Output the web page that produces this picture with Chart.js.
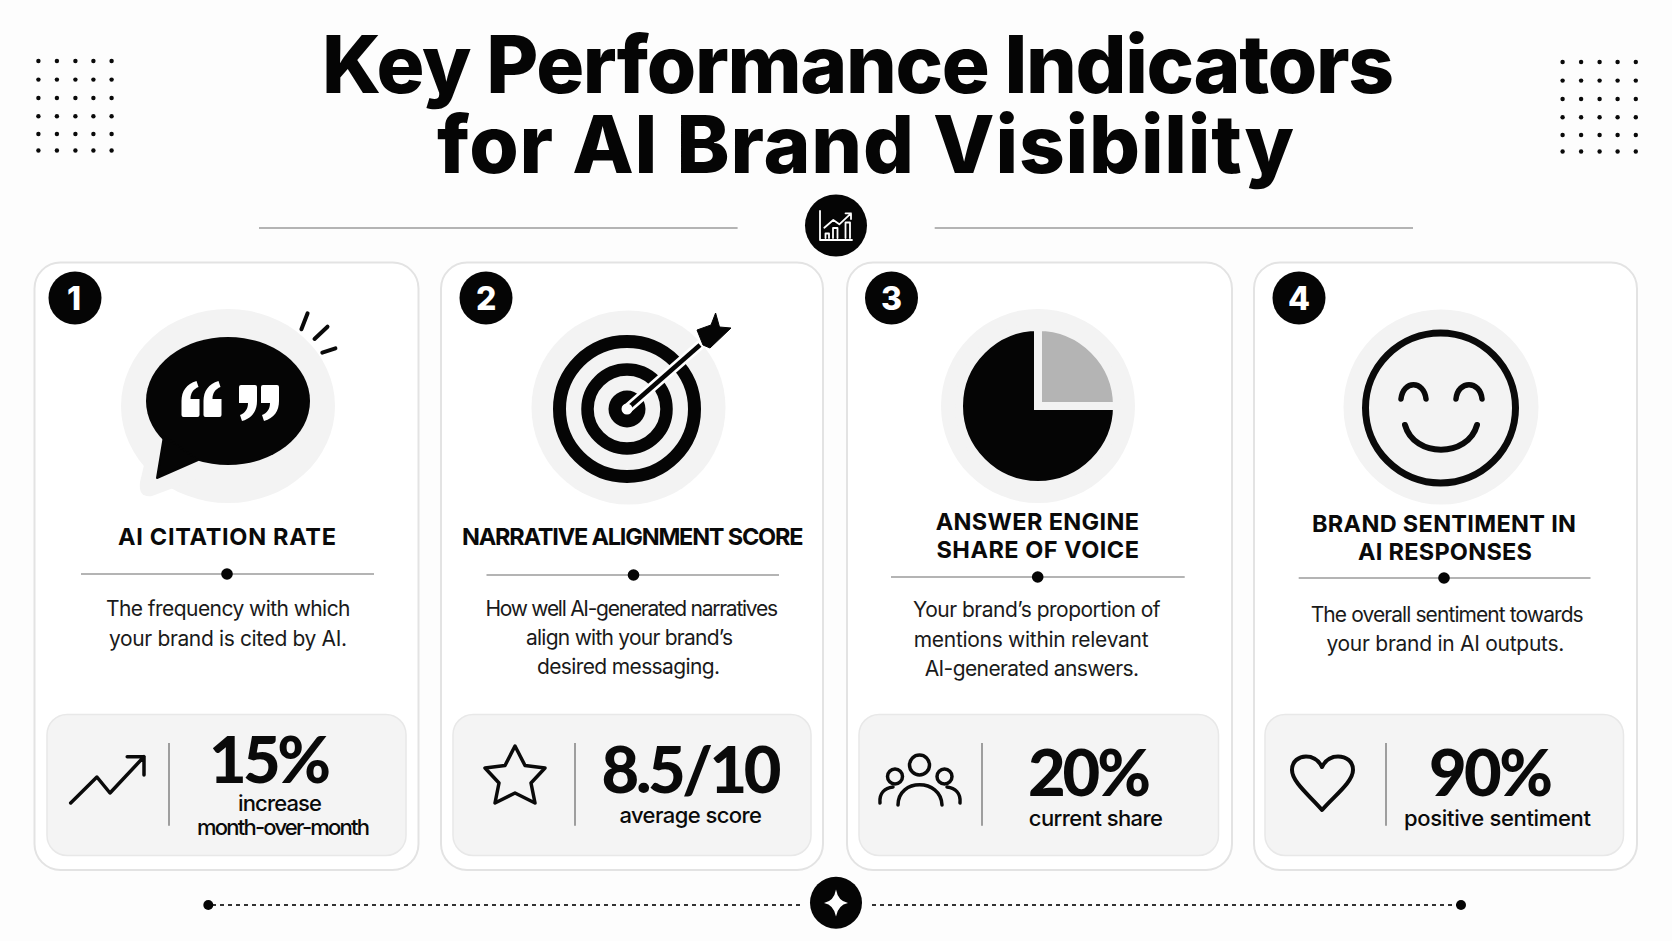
<!DOCTYPE html>
<html>
<head>
<meta charset="utf-8">
<title>Key Performance Indicators for AI Brand Visibility</title>
<script src="https://cdn.jsdelivr.net/npm/chart.js@4"></script>
<style>
  html, body { margin: 0; padding: 0; background: #fdfdfd; }
  #stage { position: relative; width: 1672px; height: 941px; overflow: hidden; font-family: Inter, sans-serif; color: #0a0a0a; }
  #art, #share-pie { position: absolute; left: 0; top: 0; }
  #share-pie { left: 948px; top: 316px; }
  .t { position: absolute; left: 0; top: 0; white-space: pre; line-height: 1; }
  .title { font-size: 80px; font-weight: 800; color: #050505; line-height: 0.95; }
  .name { font-size: 23.5px; font-weight: 700; }
  .desc { font-size: 21px; font-weight: 400; color: #1a1a1a; }
  .value { font-family: Lato, sans-serif; font-size: 65px; font-weight: 900; line-height: 0.75; }
  .cap { font-size: 22px; font-weight: 500; }
  .num { font-size: 32px; font-weight: 800; color: #fff; }
  svg .card { fill: #fff; stroke: #e3e3e3; stroke-width: 2; }
  svg .box { fill: #f4f4f4; stroke: #e8e8e8; stroke-width: 1.5; }
  svg .halo { fill: #f3f3f3; }
  svg .rule { stroke: #b4b4b4; stroke-width: 2; }
  svg .vrule { stroke: #9e9e9e; stroke-width: 2; }
  svg .ink { fill: none; stroke: #0a0a0a; stroke-linecap: round; stroke-linejoin: round; }
  svg .inv { fill: none; stroke: #fff; stroke-linecap: round; stroke-linejoin: round; }
</style>
</head>
<body>
<div id="stage">
<svg id="art" width="1672" height="941" viewBox="0 0 1672 941">
  <defs>
    <path id="quote" d="M1 34a2 2 0 0 0 2 2H17a2 2 0 0 0 2-2V18H10C10 12 13 8 18 6L16 0C6 3 1 10 1 20Z" fill="#fff"/>
    <g id="dots" fill="#0a0a0a">
      <circle cx="0" cy="0" r="2.2"/><circle cx="18.5" cy="0" r="2.2"/><circle cx="37" cy="0" r="2.2"/><circle cx="55" cy="0" r="2.2"/><circle cx="73.2" cy="0" r="2.2"/>
      <circle cx="0" cy="18.6" r="2.2"/><circle cx="18.5" cy="18.6" r="2.2"/><circle cx="37" cy="18.6" r="2.2"/><circle cx="55" cy="18.6" r="2.2"/><circle cx="73.2" cy="18.6" r="2.2"/>
      <circle cx="0" cy="37" r="2.2"/><circle cx="18.5" cy="37" r="2.2"/><circle cx="37" cy="37" r="2.2"/><circle cx="55" cy="37" r="2.2"/><circle cx="73.2" cy="37" r="2.2"/>
      <circle cx="0" cy="55.3" r="2.2"/><circle cx="18.5" cy="55.3" r="2.2"/><circle cx="37" cy="55.3" r="2.2"/><circle cx="55" cy="55.3" r="2.2"/><circle cx="73.2" cy="55.3" r="2.2"/>
      <circle cx="0" cy="73" r="2.2"/><circle cx="18.5" cy="73" r="2.2"/><circle cx="37" cy="73" r="2.2"/><circle cx="55" cy="73" r="2.2"/><circle cx="73.2" cy="73" r="2.2"/>
      <circle cx="0" cy="89.5" r="2.2"/><circle cx="18.5" cy="89.5" r="2.2"/><circle cx="37" cy="89.5" r="2.2"/><circle cx="55" cy="89.5" r="2.2"/><circle cx="73.2" cy="89.5" r="2.2"/>
    </g>
  </defs>

  <!-- corner dots -->
  <use href="#dots" x="38.4" y="61"/>
  <use href="#dots" x="1562.6" y="62"/>

  <!-- header rule and badge -->
  <line class="rule" x1="259" y1="228" x2="737.6" y2="228"/>
  <line class="rule" x1="934.7" y1="228" x2="1413" y2="228"/>
  <circle cx="836" cy="225.5" r="31" fill="#050505"/>
  <path class="inv" stroke-width="1.8" d="M820 211V240H852"/>
  <path class="inv" stroke-width="1.8" d="M825.5 238V233.5H829V238M833 238V228H837.5V238M845.5 238V222.5H850V238"/>
  <path class="inv" stroke-width="1.8" d="M824.3 227.7L833.3 220L839.3 224.3L851 213.3M845.5 213.3H851V219"/>

  <!-- cards -->
  <rect class="card" x="34.5" y="262.5" width="384" height="607.5" rx="26"/>
  <rect class="card" x="441" y="262.5" width="382" height="607.5" rx="26"/>
  <rect class="card" x="847" y="262.5" width="385" height="607.5" rx="26"/>
  <rect class="card" x="1254" y="262.5" width="383" height="607.5" rx="26"/>

  <rect class="box" x="47" y="714.5" width="359" height="141" rx="20"/>
  <rect class="box" x="453" y="714.5" width="358" height="141" rx="20"/>
  <rect class="box" x="859" y="714.5" width="359.5" height="141" rx="20"/>
  <rect class="box" x="1265" y="714.5" width="358.5" height="141" rx="20"/>

  <circle cx="75" cy="298" r="26.5" fill="#050505"/>
  <circle cx="486" cy="298" r="26.5" fill="#050505"/>
  <circle cx="891.5" cy="298" r="26.5" fill="#050505"/>
  <circle cx="1299" cy="298" r="26.5" fill="#050505"/>

  <!-- halos -->
  <ellipse class="halo" cx="228" cy="406" rx="107" ry="97"/>
  <path class="halo" d="M150 440L140 482Q138 498 152 496L200 478Z"/>
  <circle class="halo" cx="628.5" cy="407.5" r="97"/>
  <circle class="halo" cx="1038" cy="406" r="97"/>
  <circle class="halo" cx="1441" cy="407" r="97.5"/>

  <!-- speech bubble -->
  <ellipse cx="228" cy="401" rx="82" ry="64" fill="#050505"/>
  <path d="M164 436L157 478L198 460Z" fill="#050505" stroke="#050505" stroke-width="2" stroke-linejoin="round"/>
  <use href="#quote" x="180.5" y="381"/>
  <use href="#quote" x="202.5" y="381"/>
  <use href="#quote" transform="translate(258 421) rotate(180)"/>
  <use href="#quote" transform="translate(280 421) rotate(180)"/>
  <path class="ink" stroke-width="4" d="M307.6 313.3L301.4 329.3M327.5 326.7L314.5 339M335.4 348.3L322.3 352.7"/>

  <!-- target -->
  <circle cx="627" cy="409" r="67.5" fill="none" stroke="#050505" stroke-width="13"/>
  <circle cx="627" cy="409" r="39.5" fill="none" stroke="#050505" stroke-width="12.5"/>
  <circle cx="627" cy="409" r="18.5" fill="#050505"/>
  <line x1="627" y1="409" x2="700" y2="345" stroke="#fff" stroke-width="10" stroke-linecap="round"/>
  <line x1="627" y1="409" x2="700" y2="345" stroke="#050505" stroke-width="4.5"/>
  <circle cx="627" cy="409" r="5.5" fill="#fff"/>
  <path d="M715.6 313L719.5 327L731 328L710 348L703 345L697 330L711 325Z" fill="#050505" stroke="#050505" stroke-linejoin="round"/>

  <!-- smiley -->
  <circle class="ink" cx="1440.5" cy="408" r="75" stroke-width="7"/>
  <path class="ink" stroke-width="5.5" d="M1401 399C1403 380 1424 380 1426 399M1456 399C1458 380 1480 380 1482 399"/>
  <path class="ink" stroke-width="6" d="M1405 425C1414 458 1468 458 1477 425"/>

  <!-- card rules -->
  <line class="rule" x1="81" y1="574" x2="374" y2="574"/><circle cx="227" cy="574" r="5.8" fill="#050505"/>
  <line class="rule" x1="486.5" y1="575" x2="779" y2="575"/><circle cx="633.5" cy="575" r="5.8" fill="#050505"/>
  <line class="rule" x1="891" y1="577" x2="1184.7" y2="577"/><circle cx="1037.7" cy="577" r="5.8" fill="#050505"/>
  <line class="rule" x1="1298.7" y1="578" x2="1590.5" y2="578"/><circle cx="1444" cy="578" r="5.8" fill="#050505"/>

  <line class="vrule" x1="169" y1="743" x2="169" y2="825.7"/>
  <line class="vrule" x1="575" y1="743" x2="575" y2="825.7"/>
  <line class="vrule" x1="982" y1="743" x2="982" y2="825.7"/>
  <line class="vrule" x1="1386" y1="743" x2="1386" y2="825.7"/>

  <!-- stat icons -->
  <path class="ink" stroke-width="3.5" d="M70.7 803L96.9 777L110 793L144 756.7M127.2 756.7H144V775"/>
  <path class="ink" stroke-width="3.5" d="M515 746L525 765.5L545 768L531 783L535 803L515 793L495 803L499 783L485 768L505 765.5Z"/>
  <circle class="ink" stroke-width="3.5" cx="919.5" cy="765" r="10"/>
  <circle class="ink" stroke-width="3.5" cx="895" cy="776.5" r="7.5"/>
  <circle class="ink" stroke-width="3.5" cx="944.5" cy="776.5" r="7.5"/>
  <path class="ink" stroke-width="3.5" d="M898 805C898 778 941 778 942 805M880 803C879 793 885 788 893 787M960 803C961 793 955 788 947 787"/>
  <path class="ink" stroke-width="4" d="M1322 810C1310 796 1292 782 1292 770C1292 761 1299 756.5 1306 756.5C1314 756.5 1319 761 1322 767C1325 761 1330 756.5 1338 756.5C1346 756.5 1353 761 1353 770C1353 782 1334 796 1322 810Z"/>

  <!-- footer -->
  <line x1="212" y1="905" x2="800" y2="905" stroke="#333" stroke-width="1.8" stroke-dasharray="4 4"/>
  <line x1="872" y1="905" x2="1457" y2="905" stroke="#333" stroke-width="1.8" stroke-dasharray="4 4"/>
  <circle cx="208.3" cy="905" r="5" fill="#050505"/>
  <circle cx="1461" cy="905" r="5" fill="#050505"/>
  <circle cx="836" cy="902.7" r="26" fill="#050505"/>
  <path d="M836 889.5Q838 901 848 903Q838 905 836 916.5Q834 905 824 903Q834 901 836 889.5Z" fill="#fff"/>
</svg>
<canvas id="share-pie" width="180" height="180"></canvas>
</div>

<script>
  const titleLines = ['Key Performance Indicators', 'for AI Brand Visibility'];
  const cardNumbers = ['1', '2', '3', '4'];
  const kpiNames = [
    ['AI CITATION RATE'],
    ['NARRATIVE ALIGNMENT SCORE'],
    ['ANSWER ENGINE', 'SHARE OF VOICE'],
    ['BRAND SENTIMENT IN', 'AI RESPONSES'],
  ];
  const kpiDescriptions = [
    ['The frequency with which', 'your brand is cited by AI.'],
    ['How well AI-generated narratives', 'align with your brand\u2019s', 'desired messaging.'],
    ['Your brand\u2019s proportion of', 'mentions within relevant', 'AI-generated answers.'],
    ['The overall sentiment towards', 'your brand in AI outputs.'],
  ];
  const kpiValues = ['15%', '8.5/10', '20%', '90%'];
  const kpiCaptions = [
    ['increase', 'month-over-month'],
    ['average score'],
    ['current share'],
    ['positive sentiment'],
  ];

  // pie icon on card 3, clockwise from 12 o'clock
  const pieLabels = ['Highlighted', 'Other'];
  const pieValues = [25, 75];
  const pieColors = ['#b4b4b4', '#050505'];
  const haloGrey = '#f3f3f3';

  const stage = document.getElementById('stage');

  // puts text between x0 and x1 on a given baseline, letter spacing takes up the difference
  function place(text, cls, x0, x1, baseline) {
    const el = document.createElement('span');
    el.className = 't ' + cls;
    el.textContent = text;
    const strut = document.createElement('i');
    strut.style.cssText = 'display:inline-block;width:0;height:0';
    el.appendChild(strut);
    stage.appendChild(el);
    const box = el.getBoundingClientRect();
    const gap = (x1 - x0 - box.width) / Math.max(text.length - 1, 1);
    el.style.letterSpacing = gap.toFixed(3) + 'px';
    const base = strut.getBoundingClientRect().bottom - box.top;
    el.style.left = x0 + 'px';
    el.style.top = (baseline - base) + 'px';
  }

  function buildText() {
    place(titleLines[0], 'title', 322, 1394, 93);
    place(titleLines[1], 'title', 437, 1294, 173);

    place(cardNumbers[0], 'num', 67, 83, 310);
    place(cardNumbers[1], 'num', 476, 496, 310);
    place(cardNumbers[2], 'num', 881, 901, 310);
    place(cardNumbers[3], 'num', 1288, 1310, 310);

    place(kpiNames[0][0], 'name', 118, 336, 545);
    place(kpiNames[1][0], 'name', 462, 803.5, 545);
    place(kpiNames[2][0], 'name', 935.7, 1139, 530);
    place(kpiNames[2][1], 'name', 936.5, 1139, 558);
    place(kpiNames[3][0], 'name', 1312, 1576, 532);
    place(kpiNames[3][1], 'name', 1358, 1532, 560);

    place(kpiDescriptions[0][0], 'desc', 106, 350.5, 616);
    place(kpiDescriptions[0][1], 'desc', 109, 347, 645.5);
    place(kpiDescriptions[1][0], 'desc', 485.5, 778, 616);
    place(kpiDescriptions[1][1], 'desc', 526, 733, 645);
    place(kpiDescriptions[1][2], 'desc', 537, 720, 674);
    place(kpiDescriptions[2][0], 'desc', 913, 1160.6, 617);
    place(kpiDescriptions[2][1], 'desc', 913.7, 1148.6, 646.5);
    place(kpiDescriptions[2][2], 'desc', 924.7, 1139, 676);
    place(kpiDescriptions[3][0], 'desc', 1310.7, 1583.7, 621.5);
    place(kpiDescriptions[3][1], 'desc', 1326.4, 1564.4, 650.5);

    place(kpiValues[0], 'value', 209, 331, 783);
    place(kpiValues[1], 'value', 601.6, 781.5, 792.7);
    place(kpiValues[2], 'value', 1028, 1151, 796);
    place(kpiValues[3], 'value', 1429, 1553, 796);

    place(kpiCaptions[0][0], 'cap', 238, 322, 811);
    place(kpiCaptions[0][1], 'cap', 197, 370, 835);
    place(kpiCaptions[1][0], 'cap', 619.4, 762, 823);
    place(kpiCaptions[2][0], 'cap', 1028.8, 1163, 826);
    place(kpiCaptions[3][0], 'cap', 1404, 1591, 826);
  }

  function buildPie() {
    new Chart(document.getElementById('share-pie'), {
      type: 'pie',
      data: {
        labels: pieLabels,
        datasets: [{
          data: pieValues,
          backgroundColor: pieColors,
          // thick border in the halo colour gives the straight gap between the slices
          borderColor: haloGrey,
          borderWidth: 8,
          borderJoinStyle: 'miter',
        }],
      },
      options: {
        responsive: false,
        animation: false,
        radius: 79,
        plugins: {
          legend: { display: false },
          tooltip: { enabled: false },
        },
      },
    });
  }

  buildText();
  buildPie();
</script>
</body>
</html>
